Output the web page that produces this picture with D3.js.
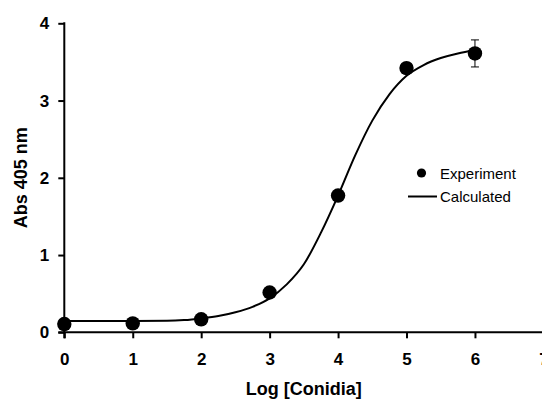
<!DOCTYPE html>
<html>
  <head>
    <meta charset="utf-8">
    <title>Abs 405 nm vs Log [Conidia]</title>
    <style media="screen">
      body {
        margin: 0;
        background: white;
      }

      text {
        font-family: "Liberation Sans", Arial, sans-serif;
        fill: black;
      }

      .axis text {
        font-size: 17px;
        font-weight: bold;
      }

      .axis line, .axis-line {
        stroke: black;
        stroke-width: 2;
      }

      .title {
        font-size: 18px;
        font-weight: bold;
      }

      .legend text {
        font-size: 15px;
      }

      .fit {
        fill: none;
        stroke: black;
        stroke-width: 2;
      }

      .errbar {
        stroke: black;
        stroke-width: 1;
      }
    </style>
    <script src="https://d3js.org/d3.v7.min.js"></script>
  </head>
  <body>
    <script type="text/javascript">

      // measured points
      const logConidia = [0, 1, 2, 3, 4, 5, 6];
      const absorbance = [0.107, 0.115, 0.168, 0.515, 1.77, 3.42, 3.61];
      const absError = [0, 0, 0, 0, 0, 0, 0.175];

      // fitted curve
      const fitX = [0, 0.5, 1, 1.5, 1.75, 2, 2.25, 2.5, 2.75, 3, 3.25, 3.5, 3.75, 4,
                    4.25, 4.5, 4.75, 5, 5.25, 5.5, 5.75, 6];
      const fitY = [0.145, 0.145, 0.145, 0.148, 0.158, 0.18, 0.21, 0.26, 0.33, 0.44, 0.62, 0.88, 1.29, 1.77,
                    2.29, 2.74, 3.08, 3.32, 3.46, 3.55, 3.61, 3.65];

      const xTicks = [0, 1, 2, 3, 4, 5, 6, 7];
      const yTicks = [0, 1, 2, 3, 4];

      const width = 542;
      const height = 402;

      const x = d3.scaleLinear().domain([0, 7]).range([64.3, 543.4]);
      const y = d3.scaleLinear().domain([0, 4]).range([332.3, 23.3]);

      const svg = d3.select('body')
        .append('svg')
          .attr('width', width)
          .attr('height', height);

      const xAxis = d3.axisBottom(x).tickValues(xTicks).tickFormat(d3.format('d'))
        .tickSize(6).tickSizeOuter(0).tickPadding(15);
      const yAxis = d3.axisLeft(y).tickValues(yTicks).tickFormat(d3.format('d'))
        .tickSize(6).tickSizeOuter(0).tickPadding(9);

      const gx = svg.append('g').attr('class', 'x axis')
        .attr('transform', `translate(0, ${y(0)})`).call(xAxis);
      const gy = svg.append('g').attr('class', 'y axis')
        .attr('transform', `translate(${x(0)}, 0)`).call(yAxis);
      gx.select('.domain').remove();
      gy.select('.domain').remove();

      svg.append('line').attr('class', 'axis-line')
        .attr('x1', x(0) - 6).attr('x2', width + 4)
        .attr('y1', y(0)).attr('y2', y(0));
      svg.append('line').attr('class', 'axis-line')
        .attr('x1', x(0)).attr('x2', x(0))
        .attr('y1', y(4) - 1).attr('y2', y(0) + 6);

      svg.append('text').attr('class', 'title')
        .attr('text-anchor', 'middle')
        .attr('x', (x(0) + x(7)) / 2)
        .attr('y', 395)
        .text('Log [Conidia]');

      svg.append('text').attr('class', 'title')
        .attr('text-anchor', 'middle')
        .attr('transform', `translate(27, ${(y(0) + y(4)) / 2}) rotate(-90)`)
        .text('Abs 405 nm');

      // fitted line
      const line = d3.line()
        .x(d => x(d[0]))
        .y(d => y(d[1]))
        .curve(d3.curveMonotoneX);

      svg.append('path').attr('class', 'fit')
        .attr('d', line(d3.zip(fitX, fitY)));

      // error bars
      const pts = d3.zip(logConidia, absorbance, absError);
      const eb = svg.append('g').selectAll('g')
        .data(pts.filter(d => d[2] > 0))
        .enter().append('g').attr('class', 'errbar');
      eb.append('line')
        .attr('x1', d => x(d[0])).attr('x2', d => x(d[0]))
        .attr('y1', d => y(d[1] + d[2])).attr('y2', d => y(d[1] - d[2]));
      eb.append('line')
        .attr('x1', d => x(d[0]) - 4).attr('x2', d => x(d[0]) + 4)
        .attr('y1', d => y(d[1] + d[2])).attr('y2', d => y(d[1] + d[2]));
      eb.append('line')
        .attr('x1', d => x(d[0]) - 4).attr('x2', d => x(d[0]) + 4)
        .attr('y1', d => y(d[1] - d[2])).attr('y2', d => y(d[1] - d[2]));

      svg.append('g').selectAll('circle')
        .data(pts)
        .enter().append('circle')
          .attr('cx', d => x(d[0]))
          .attr('cy', d => y(d[1]))
          .attr('r', 7.2)
          .attr('fill', 'black');

      // legend
      const legend = svg.append('g').attr('class', 'legend');
      legend.append('circle').attr('cx', 421.5).attr('cy', 173).attr('r', 4.6).attr('fill', 'black');
      legend.append('text').attr('x', 440).attr('y', 178.5).text('Experiment');
      legend.append('line').attr('x1', 408).attr('x2', 437).attr('y1', 196.5).attr('y2', 196.5)
        .attr('stroke', 'black').attr('stroke-width', 2);
      legend.append('text').attr('x', 440).attr('y', 201.5).text('Calculated');
    </script>
  </body>
</html>
